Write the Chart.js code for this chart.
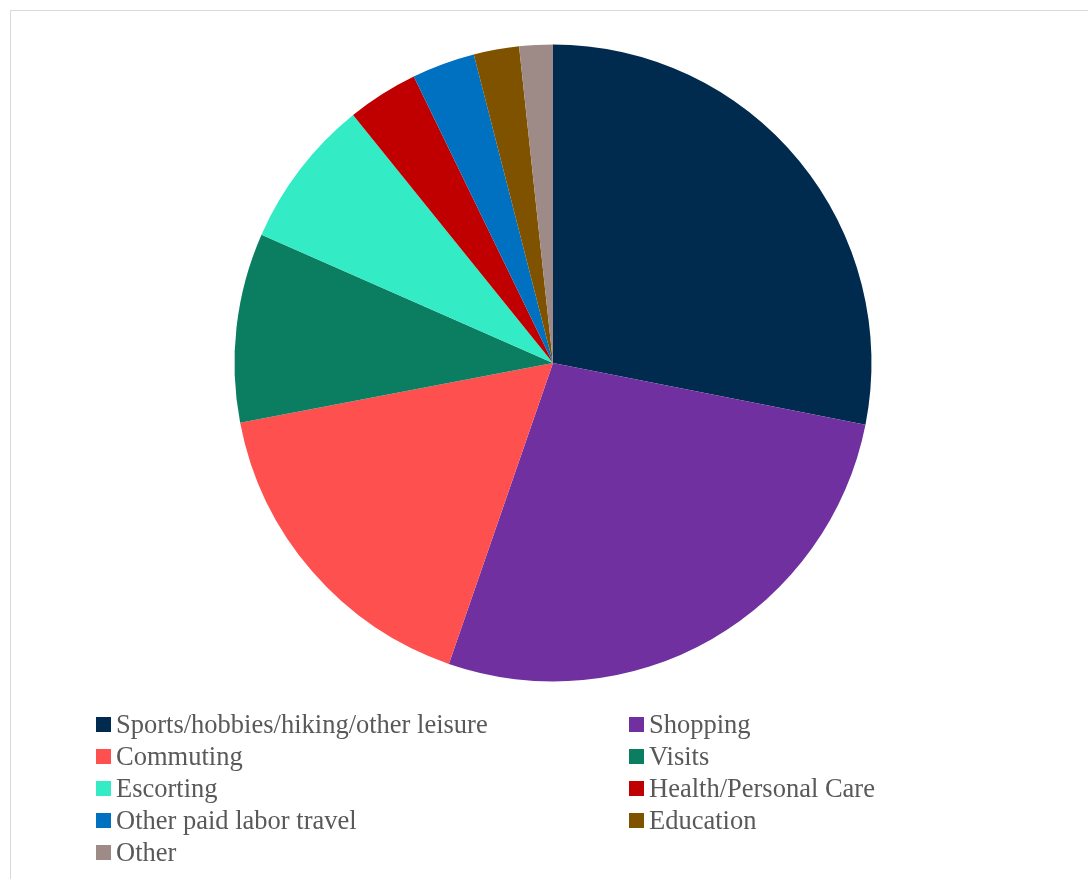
<!DOCTYPE html>
<html>
<head>
<meta charset="utf-8">
<title>Trip purposes</title>
<script src="https://cdn.jsdelivr.net/npm/chart.js@4"></script>
<style>
    html, body { margin: 0; padding: 0; background: #fff; overflow: hidden; }
    #wrap { position: relative; width: 1088px; height: 879px; }
    #frame { position: absolute; left: 10px; top: 10px; width: 1200px; height: 1000px; border: 1px solid #d9d9d9; }
    #pieChart { position: absolute; left: 0; top: 0; }
    .legend-item { position: absolute; height: 32px; line-height: 32px; font-family: "Liberation Serif", "Times New Roman", Times, serif; font-size: 26.5px; color: #595959; white-space: nowrap; }
    .legend-item span.box { position: absolute; left: 0; top: 9px; width: 15px; height: 15px; }
    .legend-item span.txt { position: absolute; left: 20px; top: 0; }
</style>
</head>
<body>
<div id="wrap">
    <div id="frame"></div>
    <canvas id="pieChart" width="1088" height="879"></canvas>
    <div id="legend"></div>
</div>
<script>
// ------------------- Data -------------------
const purposes = [
    'Sports/hobbies/hiking/other leisure',
    'Shopping',
    'Commuting',
    'Visits',
    'Escorting',
    'Health/Personal Care',
    'Other paid labor travel',
    'Education',
    'Other'
];
const shares = [28.1, 27.2, 16.7, 9.6, 7.6, 3.6, 3.2, 2.3, 1.7];
const sliceColors = ['#002b4e', '#7030a0', '#ff5050', '#0b7e62', '#33ebc5', '#c00000', '#0070c0', '#7f5200', '#9e8a87'];

// ------------------- Pie -------------------
const ctx = document.getElementById('pieChart').getContext('2d');
const pieChart = new Chart(ctx, {
    type: 'pie',
    data: {
        labels: purposes,
        datasets: [{ data: shares, backgroundColor: sliceColors, borderWidth: 0 }]
    },
    options: {
        responsive: false,
        animation: false,
        layout: { padding: { left: 234.5, right: 216.5, top: 44.5, bottom: 197.5 } },
        plugins: {
            legend: { display: false },
            tooltip: { enabled: false }
        }
    }
});

// ------------------- Legend (two columns) -------------------
const legend = document.getElementById('legend');
purposes.forEach((name, i) => {
    const col = i % 2;
    const row = Math.floor(i / 2);
    const item = document.createElement('div');
    item.className = 'legend-item';
    item.style.left = (col === 0 ? 96 : 629) + 'px';
    item.style.top = (708 + row * 32) + 'px';
    item.innerHTML = `<span class="box" style="background:${sliceColors[i]}"></span><span class="txt">${name}</span>`;
    legend.appendChild(item);
});
</script>
</body>
</html>
